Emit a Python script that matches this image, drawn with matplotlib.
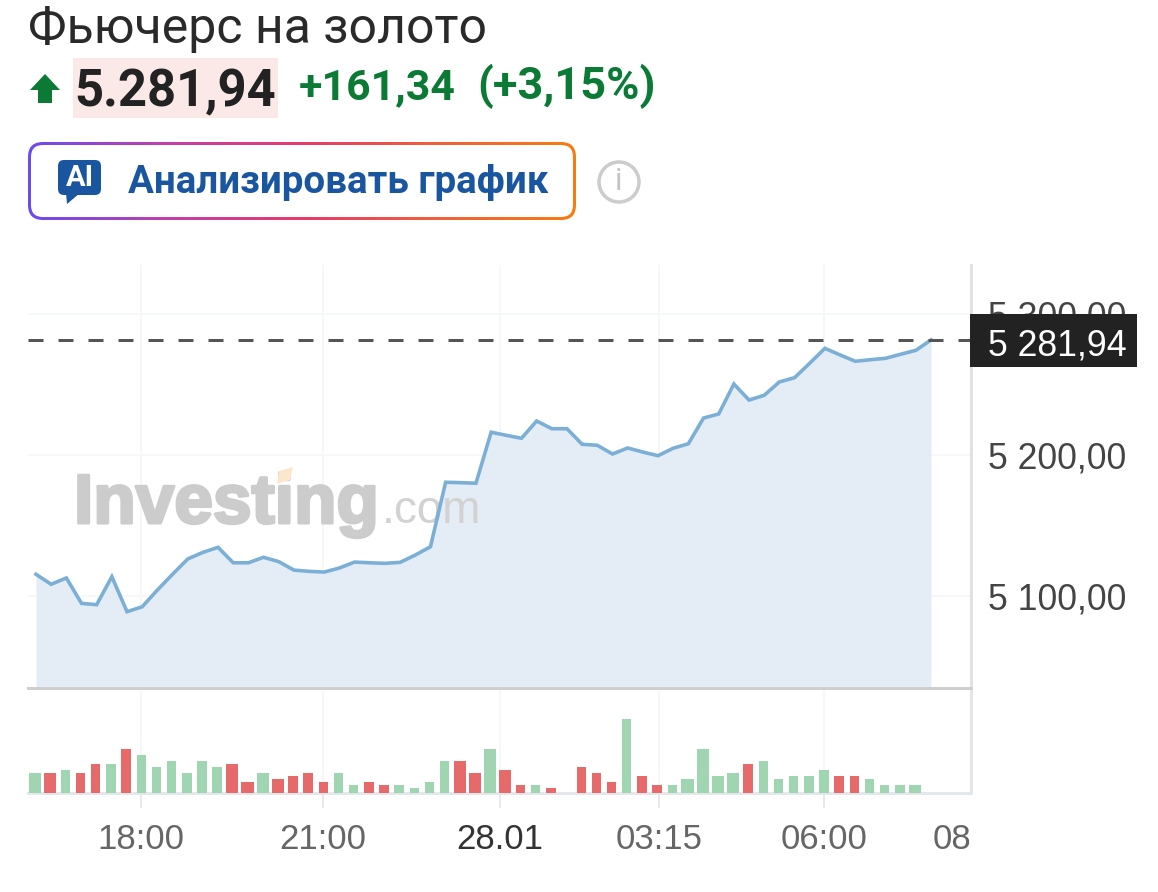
import numpy as np
import matplotlib
matplotlib.use("Agg")
import matplotlib.pyplot as plt
import matplotlib.patheffects as pe
from matplotlib.colors import LinearSegmentedColormap
from matplotlib.patches import FancyBboxPatch, Polygon, Rectangle, Circle

# Data
close = [5115.1, 5108.0, 5112.5, 5094.4, 5093.5, 5113.4, 5088.5, 5092.0, 5103.9, 5115.1,
         5126.0, 5130.7, 5134.3, 5123.3, 5123.3, 5127.2, 5124.1, 5118.1, 5117.2, 5116.7,
         5119.6, 5123.8, 5123.3, 5122.9, 5123.6, 5128.8, 5134.7, 5180.6, 5180.3, 5179.9,
         5216.2, 5214.0, 5211.9, 5224.2, 5218.7, 5218.7, 5207.6, 5206.9, 5200.7, 5205.0,
         5202.1, 5199.5, 5204.8, 5208.0, 5226.3, 5229.2, 5250.5, 5239.1, 5242.5, 5252.0,
         5255.0, 5265.3, 5275.9, 5271.2, 5266.7, 5267.8, 5268.8, 5271.7, 5274.5, 5281.94]
volume = [20, 20, 23, 20, 29, 29, 44, 38, 26, 32,
          20, 32, 26, 29, 11, 20, 14, 17, 20, 11,
          20, 8, 11, 8, 8, 5, 11, 32, 32, 20,
          44, 23, 8, 8, 5, 0, 26, 20, 11, 74,
          17, 8, 8, 14, 44, 17, 20, 29, 32, 14,
          17, 17, 23, 17, 17, 14, 8, 8, 8, 0]
direction = ["g", "r", "g", "r", "r", "g", "r", "g", "g", "g",
             "g", "g", "g", "r", "r", "g", "r", "r", "r", "r",
             "g", "g", "r", "r", "g", "g", "g", "g", "r", "r",
             "g", "r", "r", "g", "r", "g", "r", "r", "r", "g",
             "r", "r", "g", "g", "g", "g", "g", "r", "g", "g",
             "g", "g", "g", "r", "r", "g", "g", "g", "g", "g"]
time_ticks = [6.89, 18.92, 30.6, 41.07, 51.94]
time_labels = ["18:00", "21:00", "28.01", "03:15", "06:00"]
price_ticks = [5100, 5200, 5300]
price_labels = ["5 100,00", "5 200,00", "5 300,00"]
last_price = 5281.94

W, H = 1158, 892
px = 1 / 1.3889  # one pixel in points at dpi 100
AX_L, AX_R, PRICE_T, PRICE_B, VOL_B = 28, 971, 265, 688, 793
GRID = "#f6f7f9"

plt.rcParams["font.family"] = ["Liberation Sans", "DejaVu Sans"]
fig = plt.figure(figsize=(W / 100, H / 100), dpi=100, facecolor="white")


def box(top, bottom):
    return [AX_L / W, 1 - bottom / H, (AX_R - AX_L) / W, (bottom - top) / H]


ax_vol = fig.add_axes(box(PRICE_B, VOL_B), zorder=1)
ax_price = fig.add_axes(box(PRICE_T, PRICE_B), zorder=2)
# overlay in pixel coordinates for the page furniture
ax_px = fig.add_axes([0, 0, 1, 1], zorder=5)
ax_px.set_xlim(0, W)
ax_px.set_ylim(H, 0)
ax_px.axis("off")
ax_px.patch.set_alpha(0)

idx = np.arange(len(close))
xlim = (-0.527, 61.63)

# Price panel
ax_price.set_xlim(*xlim)
ax_price.set_ylim(5034.2, 5335.2)
ax_price.fill_between(idx, close, 5034.2, color="#e4edf5", lw=0, zorder=2)
ax_price.plot(idx, close, color="#7bafd6", lw=3.6 * px, zorder=3, solid_joinstyle="miter")
ax_price.hlines(last_price, xlim[0], xlim[1], color="#555555", lw=3 * px,
                linestyles=(0, (5, 5)), zorder=4)
ax_price.set_xticks(time_ticks)
ax_price.tick_params(axis="x", length=0, labelbottom=False)
ax_price.set_yticks(price_ticks)
ax_price.set_yticklabels(price_labels)
ax_price.yaxis.tick_right()
ax_price.tick_params(axis="y", length=0, pad=12, labelsize=25.7, labelcolor="#444444")
ax_price.grid(True, color=GRID, lw=2 * px, zorder=0)
ax_price.set_axisbelow(True)
for s in ["top", "left"]:
    ax_price.spines[s].set_visible(False)
ax_price.spines["right"].set_color("#e2e2e2")
ax_price.spines["right"].set_linewidth(3 * px)
ax_price.spines["bottom"].set_color("#cfcfcf")
ax_price.spines["bottom"].set_linewidth(3 * px)

# Volume panel
wide = [0, 1, 13, 14, 15, 16, 28, 29, 30, 31, 43, 44, 45, 46, 58]
colors = ["#a0d5b2" if d == "g" else "#e66a6a" for d in direction]
widths = [0.8 if i in wide else 0.62 for i in idx]
ax_vol.bar(idx - 0.06, volume, width=widths, color=colors, lw=0, zorder=3)
ax_vol.set_xlim(*xlim)
ax_vol.set_ylim(0, 105)
ax_vol.set_yticks([])
ax_vol.set_xticks(time_ticks)
ax_vol.set_xticklabels(time_labels)
ax_vol.tick_params(axis="x", length=15 * px, width=2 * px, color="#e8e9ed",
                   pad=11, labelsize=25, labelcolor="#666666")
ax_vol.get_xticklabels()[2].set_color("#333333")
ax_vol.grid(True, axis="x", color=GRID, lw=2 * px, zorder=0)
ax_vol.set_axisbelow(True)
for s in ["top", "left"]:
    ax_vol.spines[s].set_visible(False)
ax_vol.spines["right"].set_color("#e6e6e6")
ax_vol.spines["right"].set_linewidth(3 * px)
ax_vol.spines["bottom"].set_color("#e4e7ec")
ax_vol.spines["bottom"].set_linewidth(3 * px)
ax_px.text(971, 849, "08", ha="right", va="baseline", fontsize=25, color="#666666")

# Watermark sits between the fill and the line
ax_price.text(74, 523, "Investing", transform=ax_px.transData, fontsize=50, fontweight="bold",
              color="#cccccc", ha="left", va="baseline", zorder=2.5,
              path_effects=[pe.withStroke(linewidth=2.2, foreground="#cccccc")])
ax_price.text(382, 523, ".com", transform=ax_px.transData, fontsize=33,
              color="#d2d2d2", ha="left", va="baseline", zorder=2.5)
ax_price.add_patch(Polygon([(279, 471), (293, 467), (290, 480), (277, 484)], closed=True,
                           transform=ax_px.transData, color="#fde7cc", lw=0, zorder=2.5))

# Last price flag
ax_px.add_patch(Rectangle((970, 314), 167, 53, color="#222222", lw=0))
ax_px.text(1127, 356, "5 281,94", ha="right", va="baseline", fontsize=25.7, color="white")

# Header
ax_px.text(28, 43, "Фьючерс на золото", fontsize=36, family="Roboto", color="#2a2a2a", va="baseline")
ax_px.add_patch(Rectangle((73, 58), 205, 60, color="#fbe9e7", lw=0))
ax_px.add_patch(Polygon([(30, 90), (45, 74), (60, 90), (52, 90), (52, 103), (38, 103), (38, 90)],
                        closed=True, color="#0a7a35", lw=0))
ax_px.text(74, 106, "5.281,94", fontsize=36.5, family="Roboto", fontweight="bold", color="#222222", va="baseline")
ax_px.text(299, 99, "+161,34", fontsize=30.8, family="Roboto", fontweight="bold", color="#0a7a35", va="baseline")
ax_px.text(477, 99, "(+3,15%)", fontsize=32.5, family="Roboto", fontweight="bold", color="#0a7a35", va="baseline")

# Button with gradient border
cmap = LinearSegmentedColormap.from_list("btn", ["#6a4cf0", "#c23fae", "#e83a6a", "#f0603a", "#f97c10"])
grad = ax_px.imshow(np.linspace(0, 1, 256)[None, :], cmap=cmap, extent=(28, 576, 220, 142), aspect="auto")
outer = FancyBboxPatch((28, 142), 548, 78, boxstyle="round,pad=0,rounding_size=15", lw=0, fc="none")
ax_px.add_patch(outer)
grad.set_clip_path(outer)
ax_px.add_patch(FancyBboxPatch((31, 145), 542, 72, boxstyle="round,pad=0,rounding_size=12",
                               lw=0, fc="white", zorder=3))
ax_px.set_xlim(0, W)
ax_px.set_ylim(H, 0)
ax_px.text(128, 193, "Анализировать график", fontsize=27.7, family="Roboto", fontweight="bold",
           color="#1a56a0", va="baseline", zorder=4)
ax_px.add_patch(FancyBboxPatch((58, 160), 43, 35, boxstyle="round,pad=0,rounding_size=6",
                               lw=0, fc="#1a56a0", zorder=4))
ax_px.add_patch(Polygon([(66, 193), (80, 193), (67, 204)], closed=True, color="#1a56a0", lw=0, zorder=4))
ax_px.text(79.5, 178, "AI", fontsize=21, family="Roboto", fontweight="bold", color="white",
           ha="center", va="center", zorder=5)

# Info icon
ax_px.add_patch(Circle((619, 182), 20, fc="white", ec="#cccccc", lw=3.5 * px))
ax_px.text(619, 182, "i", fontsize=22, family="Roboto", color="#c4c4c4", ha="center", va="center")

fig.savefig("out.png", dpi=100)
